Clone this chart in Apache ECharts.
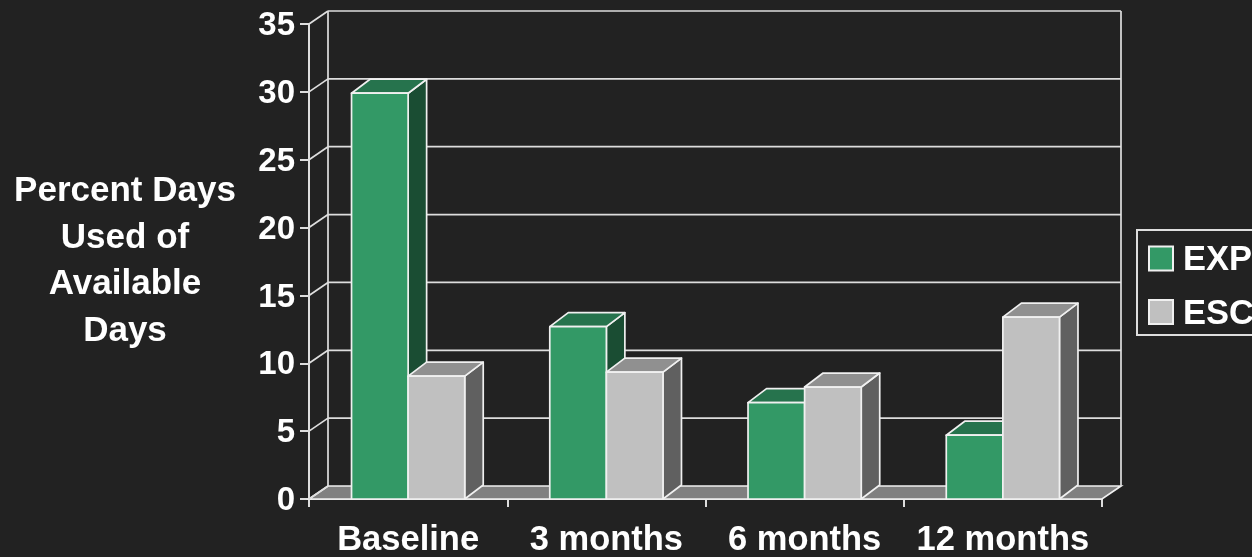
<!DOCTYPE html>
<html>
<head>
<meta charset="utf-8">
<style>
  html, body { margin: 0; padding: 0; background: #222222; overflow: hidden; }
  #chart { width: 1252px; height: 557px; }
</style>
<script src="https://cdn.jsdelivr.net/npm/echarts@6/dist/echarts.min.js"></script>
</head>
<body>
<div id="chart"></div>
<script>
// Percent of available days used, by visit and treatment arm
const categories = ['Baseline', '3 months', '6 months', '12 months'];
const expValues = [29.9, 12.7, 7.1, 4.7];
const escValues = [9.05, 9.35, 8.25, 13.4];
const wallTicks = [0, 5, 10, 15, 20, 25, 30, 35];

// Oblique projection of the chart's depth axis
const WALL_DX = 19, WALL_DY = -13;
const BAR_DX = 18.5, BAR_DY = -14;
const BAR_RATIO = 0.2855;
const STROKE = 1.7;
const AXIS_STROKE = 2;

const FONT = '"Liberation Sans", Arial, sans-serif';
const LINE = '#dedede';
const EDGE = '#f0f0f0';

// Back wall, side wall and floor, one item per value-axis tick
function renderWall(params, api) {
  const v = api.value(1);
  const cs = params.coordSys;
  const y = api.coord([0, v])[1];
  const left = cs.x, right = cs.x + cs.width;
  const lineStyle = { stroke: LINE, lineWidth: STROKE, fill: null };
  const children = [];
  if (v === 0) {
    children.push({
      type: 'polygon',
      shape: { points: [[left, y], [right, y], [right + WALL_DX, y + WALL_DY], [left + WALL_DX, y + WALL_DY]] },
      style: { fill: '#808080', stroke: EDGE, lineWidth: STROKE }
    });
    const top = cs.y + WALL_DY;
    [left, right].forEach(function (x) {
      children.push({
        type: 'line',
        shape: { x1: x + WALL_DX, y1: top, x2: x + WALL_DX, y2: y + WALL_DY },
        style: lineStyle
      });
    });
  } else {
    children.push({
      type: 'line',
      shape: { x1: left + WALL_DX, y1: y + WALL_DY, x2: right + WALL_DX, y2: y + WALL_DY },
      style: lineStyle
    });
  }
  children.push({
    type: 'line',
    shape: { x1: left, y1: y, x2: left + WALL_DX, y2: y + WALL_DY },
    style: lineStyle
  });
  return { type: 'group', children: children };
}

// Extruded bar: front face plus shaded top and side faces
function barRenderer(slot, front, topFace, sideFace) {
  return function (params, api) {
    const cat = api.value(0);
    const p = api.coord([cat, api.value(1)]);
    const base = api.coord([cat, 0]);
    const w = api.size([1, 0])[0] * BAR_RATIO;
    const x0 = p[0] + slot * w;
    const x1 = x0 + w;
    const edge = { stroke: EDGE, lineWidth: STROKE, lineJoin: 'round' };
    return {
      type: 'group',
      children: [
        {
          type: 'polygon',
          shape: { points: [[x1, p[1]], [x1 + BAR_DX, p[1] + BAR_DY], [x1 + BAR_DX, base[1] + BAR_DY], [x1, base[1]]] },
          style: Object.assign({ fill: sideFace }, edge)
        },
        {
          type: 'polygon',
          shape: { points: [[x0, p[1]], [x0 + BAR_DX, p[1] + BAR_DY], [x1 + BAR_DX, p[1] + BAR_DY], [x1, p[1]]] },
          style: Object.assign({ fill: topFace }, edge)
        },
        {
          type: 'rect',
          shape: { x: x0, y: p[1], width: w, height: base[1] - p[1] },
          style: Object.assign({ fill: front }, edge)
        }
      ]
    };
  };
}

const chart = echarts.init(document.getElementById('chart'), null, { renderer: 'canvas' });
chart.setOption({
  backgroundColor: '#222222',
  animation: false,
  textStyle: { fontFamily: FONT },
  grid: { left: 309, top: 24, width: 793, height: 475, containLabel: false, outerBoundsMode: 'none' },
  legend: {
    orient: 'vertical',
    left: 1137,
    top: 230,
    padding: [13, 60, 3.5, 11],
    itemWidth: 24,
    itemHeight: 24,
    itemGap: 18.5,
    borderColor: LINE,
    borderWidth: AXIS_STROKE,
    icon: 'rect',
    selectedMode: false,
    data: ['EXP', 'ESC'],
    formatter: '{t|{name}}',
    textStyle: {
      rich: { t: { color: '#ffffff', fontSize: 34.5, fontWeight: 'bold', fontFamily: FONT, padding: [4, 0, 0, 5] } }
    }
  },
  xAxis: {
    type: 'category',
    data: categories,
    axisLine: { lineStyle: { color: LINE, width: AXIS_STROKE } },
    axisTick: { show: true, alignWithLabel: false, interval: 0, length: 8, lineStyle: { color: LINE, width: AXIS_STROKE } },
    axisLabel: { color: '#ffffff', fontSize: 34.5, fontWeight: 'bold', fontFamily: FONT, margin: 24, interval: 0, hideOverlap: false }
  },
  yAxis: {
    type: 'value',
    min: 0,
    max: 35,
    interval: 5,
    name: 'Percent Days\nUsed of\nAvailable\nDays',
    nameLocation: 'middle',
    nameRotate: 0,
    nameGap: 184,
    nameTextStyle: { color: '#ffffff', fontSize: 35, fontWeight: 'bold', fontFamily: FONT, lineHeight: 46.5, align: 'center', verticalAlign: 'middle' },
    splitLine: { show: false },
    axisLine: { show: true, lineStyle: { color: LINE, width: AXIS_STROKE } },
    axisTick: { show: true, length: 9, lineStyle: { color: LINE, width: AXIS_STROKE } },
    axisLabel: {
      margin: 14,
      formatter: '{tick|{value}}',
      rich: { tick: { color: '#ffffff', fontSize: 33, fontWeight: 'bold', fontFamily: FONT, padding: [4, 0, 0, 0] } }
    }
  },
  series: [
    {
      name: 'walls',
      type: 'custom',
      z: 1,
      renderItem: renderWall,
      encode: { x: 0, y: 1 },
      data: wallTicks.map(function (v) { return [0, v]; }),
      silent: true
    },
    {
      name: 'EXP',
      type: 'custom',
      z: 2,
      renderItem: barRenderer(-1, '#339966', '#26734d', '#1a4d33'),
      encode: { x: 0, y: 1 },
      itemStyle: { color: '#339966', borderColor: EDGE, borderWidth: AXIS_STROKE },
      data: expValues.map(function (v, i) { return [i, v]; })
    },
    {
      name: 'ESC',
      type: 'custom',
      z: 3,
      renderItem: barRenderer(0, '#c0c0c0', '#909090', '#606060'),
      encode: { x: 0, y: 1 },
      itemStyle: { color: '#c0c0c0', borderColor: EDGE, borderWidth: AXIS_STROKE },
      data: escValues.map(function (v, i) { return [i, v]; })
    }
  ]
});
</script>
</body>
</html>
